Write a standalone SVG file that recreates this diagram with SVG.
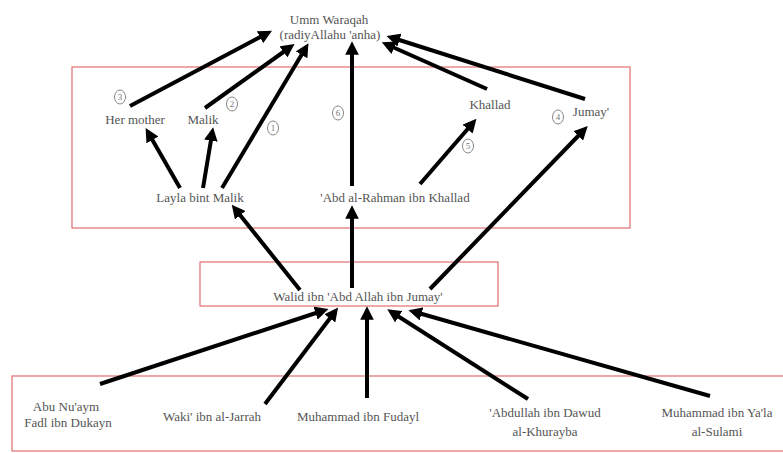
<svg xmlns="http://www.w3.org/2000/svg" width="783" height="453" viewBox="0 0 783 453">
<style>
.t{font-family:"Liberation Serif","DejaVu Serif",serif;font-size:13px;fill:#555;text-anchor:middle}
.box{fill:none;stroke:#e07070;stroke-width:1.2}
.c{stroke:#000;stroke-width:4;fill:none;marker-end:url(#ah)}
.n ellipse{fill:none;stroke:#888;stroke-width:1}
.n text{font-family:"Liberation Serif","DejaVu Serif",serif;font-size:9px;fill:#777;text-anchor:middle}
</style>
<defs>
<marker id="ah" viewBox="0 0 10 10" refX="5" refY="5" markerWidth="3.4" markerHeight="3.4" orient="auto" markerUnits="strokeWidth">
<path d="M0,0 L10,5 L0,10 z" fill="#000"/>
</marker>
</defs>
<rect width="783" height="453" fill="#fff"/>
<rect class="box" x="72" y="67" width="558" height="161"/>
<rect class="box" x="200" y="262" width="298" height="44"/>
<rect class="box" x="12" y="376" width="780" height="75"/>
<g id="connectors">
<line class="c" x1="130" y1="106" x2="266" y2="34"/>
<line class="c" x1="205" y1="108" x2="289" y2="48"/>
<line class="c" x1="222" y1="188" x2="305" y2="49"/>
<line class="c" x1="180" y1="188" x2="149" y2="134"/>
<line class="c" x1="203" y1="188" x2="212" y2="134"/>
<line class="c" x1="352" y1="186" x2="352" y2="48"/>
<line class="c" x1="420" y1="184" x2="472" y2="124"/>
<line class="c" x1="487" y1="89" x2="388" y2="45"/>
<line class="c" x1="585" y1="99" x2="393" y2="38"/>
<line class="c" x1="300" y1="290" x2="236" y2="210"/>
<line class="c" x1="352" y1="288" x2="352" y2="212"/>
<line class="c" x1="430" y1="289" x2="583" y2="131"/>
<line class="c" x1="100" y1="384" x2="322" y2="311"/>
<line class="c" x1="265" y1="404" x2="334" y2="313"/>
<line class="c" x1="367" y1="398" x2="367" y2="313"/>
<line class="c" x1="528" y1="399" x2="393" y2="313"/>
<line class="c" x1="710" y1="396" x2="415" y2="312"/>
</g>
<g id="umm"><text class="t" x="329" y="24">Umm Waraqah</text><text class="t" x="330" y="39">(radiyAllahu 'anha)</text></g>
<g id="her-mother"><text class="t" x="135" y="124">Her mother</text></g>
<g id="malik"><text class="t" x="203" y="124">Malik</text></g>
<g id="khallad"><text class="t" x="490" y="109">Khallad</text></g>
<g id="jumay"><text class="t" x="591" y="116">Jumay'</text></g>
<g id="layla"><text class="t" x="200" y="202">Layla bint Malik</text></g>
<g id="abd-al-rahman"><text class="t" x="395" y="202">'Abd al-Rahman ibn Khallad</text></g>
<g id="walid"><text class="t" x="358" y="301">Walid ibn 'Abd Allah ibn Jumay'</text></g>
<g id="abu-nuaym"><text class="t" x="66" y="411">Abu Nu'aym</text><text class="t" x="68" y="427">Fadl ibn Dukayn</text></g>
<g id="waki"><text class="t" x="212" y="421">Waki' ibn al-Jarrah</text></g>
<g id="fudayl"><text class="t" x="358" y="421">Muhammad ibn Fudayl</text></g>
<g id="abdullah"><text class="t" x="545" y="417">'Abdullah ibn Dawud</text><text class="t" x="545" y="436">al-Khurayba</text></g>
<g id="yala"><text class="t" x="717" y="417">Muhammad ibn Ya'la</text><text class="t" x="717" y="436">al-Sulami</text></g>
<g id="numbers" class="n">
<ellipse cx="120" cy="97" rx="5.5" ry="7"/><text x="120" y="100">3</text>
<ellipse cx="232" cy="104" rx="5.5" ry="7"/><text x="232" y="107">2</text>
<ellipse cx="273" cy="128" rx="5.5" ry="7"/><text x="273" y="131">1</text>
<ellipse cx="338" cy="113" rx="5.5" ry="7"/><text x="338" y="116">6</text>
<ellipse cx="468" cy="146" rx="5.5" ry="7"/><text x="468" y="149">5</text>
<ellipse cx="558" cy="117" rx="5.5" ry="7"/><text x="558" y="120">4</text>
</g>
</svg>
